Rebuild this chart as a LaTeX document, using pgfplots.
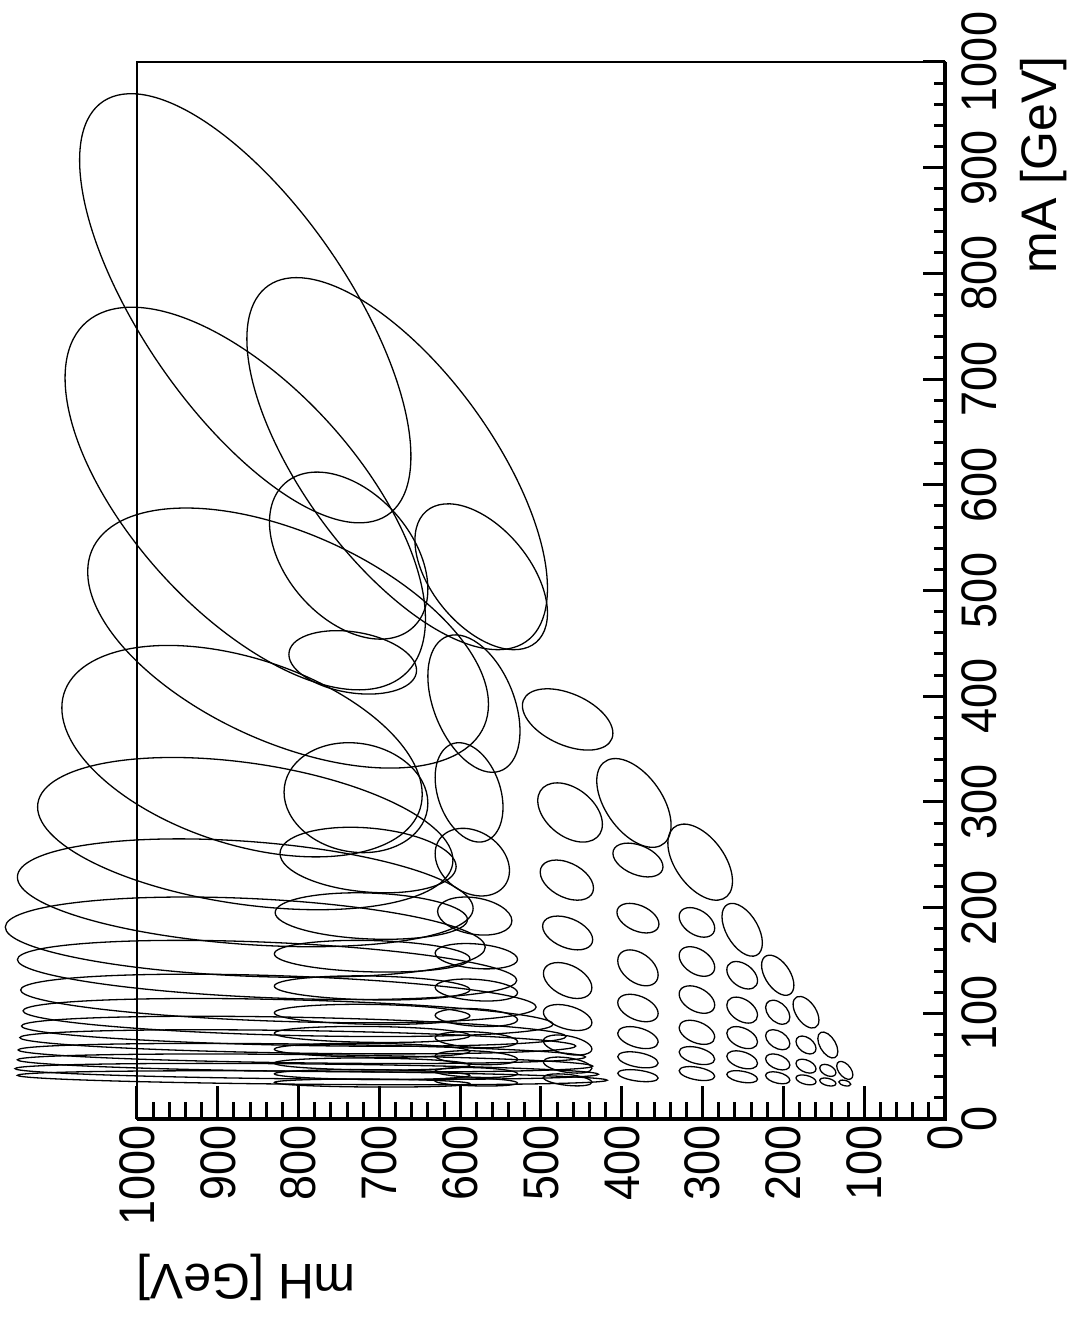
\documentclass[border=0pt]{standalone}
\usepackage{pgfplots}
\pgfplotsset{compat=1.18}
\usepackage{pgfplotstable}
\usepackage{fontspec}
\setmainfont{Liberation Sans}
\newfontfamily\tickfam[FakeStretch=0.9]{Liberation Sans}
\newcommand\tickfont{\tickfam\fontsize{50bp}{60bp}\selectfont}
\newcommand\labfont{\fontsize{50bp}{60bp}\selectfont}

% error ellipse drawn as a plot mark: conjugate half-axes (eA,eB) and (0,eC), in bp
\pgfdeclareplotmark{covell}{%
  \pgfpathellipse{\pgfpointorigin}{\pgfpoint{\eA bp}{\eB bp}}{\pgfpoint{0bp}{\eC bp}}%
  \pgfusepathqstroke}

% centre (mH, mA), widths (sH, sA) in GeV and correlation rho
\pgfplotstableread{
mH  mA  sH  sA  rho
866 767 205 203 0.69
866 587 223 181 0.63
813 455 248 123 0.51
870 348 223 100 0.41
866 270 257 72  0.35
866 214 282 51  0.29
866 172 297 38  0.25
839 141 309 28  0.35
825 114 319 23  0.35
813 96  328 18  0.35
806 83  337 14.2 0.35
801 73  344 11.4 0.35
796 62  351 9.5 0.35
792 53  356 8.5 0.35
790 45  361 7.6 0.35
783 39  365 6.6 0.35
678 620 186 176 0.67
738 533 98  79  0.40
733 432 79  30  0.25
729 304 89  52  0.10
714 245 109 31  0.20
710 192 119 22  0.15
709 154 121 15  0.15
709 124 121 11.4 0.15
709 99  121 9.5 0.15
709 80  121 7.6 0.15
709 65  121 6.6 0.15
709 52  121 5.7 0.15
709 42  121 4.7 0.15
709 34  121 3.8 0.15
574 513 82  69  0.50
583 393 57  65  0.40
589 309 42  47  0.30
585 243 46  32  0.25
582 192 46  18  0.25
580 154 51  12  0.25
580 122 51  10.4 0.25
580 96  51  8.5 0.25
580 75  51  7.6 0.25
580 58  51  6.6 0.25
580 44  51  4.7 0.25
580 35  51  3.8 0.25
467 378 56  29  0.45
464 290 40  28  0.40
468 226 33  19  0.40
467 176 31  16  0.40
467 131 30  17  0.40
467 96  30  12.3 0.40
467 70  30  9.5 0.40
467 51  30  7.6 0.40
467 37  30  5.7 0.40
385 299 46  42  0.50
380 245 31  16  0.40
380 190 26  14  0.40
380 143 25  17  0.40
380 105 25  13  0.40
380 77  25  10.4 0.40
380 56  25  7.6 0.40
380 41  25  5.7 0.40
303 243 40  36  0.50
307 186 22  14  0.40
307 149 22  14  0.40
307 113 22  13  0.40
307 82  22  11.4 0.40
307 60  22  8.5 0.40
307 43  22  6.6 0.40
251 179 25  25  0.50
251 136 19  13  0.40
251 103 19  12.3 0.40
251 77  19  10.4 0.40
251 56  19  8.5 0.40
251 40  19  5.7 0.40
207 136 20  19  0.50
207 101 15  11.4 0.40
207 75  15  9.5 0.40
207 54  15  7.6 0.40
207 39  15  5.7 0.40
172 101 16  15  0.50
172 70  12.4 8.5 0.40
172 50  12.4 6.6 0.40
172 37  12.4 4.7 0.40
145 70  12.4 12.3 0.50
145 46  10  5.7 0.40
145 35  10  3.8 0.40
124 46  10  8.5 0.50
124 34  7.4 2.8 0.40
}\ellipses

\begin{document}
\begin{tikzpicture}
% main frame: mH along the bottom (reversed), data, mH ticks
\begin{axis}[
  at={(541bp,727.5bp)}, anchor=center,
  scale only axis, width=808bp, height=1057bp,
  xmin=0, xmax=1000, ymin=0, ymax=1000,
  x dir=reverse, clip=false,
  axis line style={line width=2bp},
  xtick={0,100,...,1000}, minor x tick num=4, ytick=\empty,
  xtick pos=left, tick align=inside,
  major tick length=33bp, minor tick length=17bp,
  tick style={black, line width=3bp},
  /pgf/number format/assume math mode=true,
  /pgf/number format/1000 sep={},
  xticklabel style={rotate=90, anchor=east, inner sep=0pt, font=\tickfont},
  xticklabel shift=6bp,
  xlabel={mH [GeV]},
  xlabel style={at={(axis description cs:0.135,-0.1495)}, anchor=center,
    rotate=180, inner sep=0pt, font=\labfont},
]
\addplot[scatter, only marks, mark=covell,
  scatter/use mapped color={draw=black, fill=none},
  mark options={line width=1.3bp},
  visualization depends on={-0.808*\thisrow{sH} \as \eA},
  visualization depends on={1.057*\thisrow{sA}*\thisrow{rho} \as \eB},
  visualization depends on={1.057*\thisrow{sA}*sqrt(1-\thisrow{rho}^2) \as \eC},
] table[x=mH, y=mA] {\ellipses};
\end{axis}
% same frame again for the mA ticks on the right
\begin{axis}[
  at={(541bp,727.5bp)}, anchor=center,
  scale only axis, width=808bp, height=1057bp,
  xmin=0, xmax=1000, ymin=0, ymax=1000,
  x dir=reverse, clip=false,
  hide x axis,
  axis line style={line width=2bp},
  ytick={0,100,...,1000}, minor y tick num=4,
  ytick pos=right, tick align=inside,
  major tick length=22bp, minor tick length=11bp,
  tick style={black, line width=3bp},
  /pgf/number format/assume math mode=true,
  /pgf/number format/1000 sep={},
  yticklabel style={rotate=90, anchor=north, inner sep=0pt, font=\tickfont},
  yticklabel shift=16bp,
  ylabel={mA [GeV]},
  ylabel style={at={(axis description cs:1.1225,0.9026)}, anchor=center,
    inner sep=0pt, font=\labfont},
]
\draw[line width=4.5bp, line join=miter]
  (axis description cs:0,0) -- (axis description cs:1,0) -- (axis description cs:1,1);
\end{axis}
% picture size
\pgfresetboundingbox
\path (0bp,0bp) rectangle (1070bp,1318bp);
\end{tikzpicture}
\end{document}
